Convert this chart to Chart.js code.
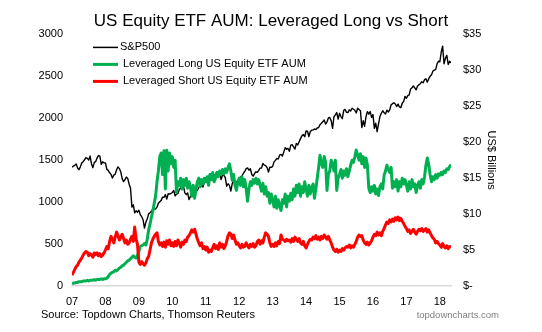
<!DOCTYPE html>
<html>
<head>
<meta charset="utf-8">
<script src="https://cdn.jsdelivr.net/npm/chart.js@4.4.1/dist/chart.umd.min.js"></script>
<style>
  html, body { margin: 0; padding: 0; background: #fff; }
  #wrap { width: 542px; height: 332px; }
</style>
</head>
<body>
<div id="wrap"><canvas id="myChart" width="542" height="332"></canvas></div>
<script>
// semi-monthly readings, first point = start of 2007
var startYear = 2007;
var perYear = 24;

var yearTicks = [2007, 2008, 2009, 2010, 2011, 2012, 2013, 2014, 2015, 2016, 2017, 2018];
var yearLabels = ['07', '08', '09', '10', '11', '12', '13', '14', '15', '16', '17', '18'];

// S&P500 (left axis)
var spx = [
  1418,1430,1438,1456,1407,1387,1421,1468,1482,1505,1531,1522,1503,1549,1455,1411,1474,1484,1527,1555,1549,1451,1481,1468,
  1468,1390,1379,1350,1331,1288,1323,1334,1386,1420,1400,1360,1280,1245,1267,1298,1283,1213,1166,940,969,873,896,880,
  903,850,826,790,690,760,798,860,873,890,919,920,919,940,987,1005,1021,1060,1057,1090,1036,1100,1096,1105,
  1115,1140,1074,1095,1104,1150,1169,1205,1187,1110,1089,1110,1031,1065,1102,1080,1049,1125,1141,1175,1183,1200,1181,1240,
  1258,1290,1286,1340,1327,1270,1326,1320,1364,1340,1345,1270,1321,1320,1292,1190,1219,1200,1131,1220,1253,1220,1247,1220,
  1258,1300,1312,1345,1366,1400,1408,1380,1398,1330,1310,1340,1362,1355,1379,1405,1407,1460,1441,1435,1412,1360,1416,1415,
  1426,1480,1498,1520,1515,1560,1569,1550,1598,1650,1631,1640,1606,1680,1686,1660,1633,1700,1682,1720,1757,1790,1806,1780,
  1848,1845,1783,1840,1859,1860,1872,1865,1884,1890,1924,1940,1960,1980,1931,1955,2003,2010,1972,1880,2018,2040,2068,1990,
  2059,2020,1995,2095,2105,2070,2068,2100,2086,2120,2107,2095,2063,2120,2104,2090,1890,1970,1905,2020,2079,2050,2080,2010,
  2044,1880,1940,1840,1932,2020,2060,2090,2065,2050,2097,2075,2099,2160,2174,2185,2171,2140,2168,2135,2126,2180,2199,2260,
  2239,2270,2279,2350,2364,2385,2363,2340,2384,2400,2412,2435,2423,2460,2470,2430,2472,2500,2519,2560,2575,2580,2648,2680,
  2674,2790,2860,2650,2714,2750,2641,2680,2660
];

// Leveraged long AUM, US$ bn (right axis)
var levLong = [
  0.3,0.4,0.4,0.5,0.5,0.6,0.6,0.6,0.7,0.7,0.7,0.8,0.7,0.8,0.8,0.8,0.9,0.8,0.9,0.9,0.9,1.0,0.9,1.0,
  1.0,1.1,1.3,1.6,1.8,1.9,2.0,2.2,2.1,2.3,2.5,2.6,2.8,2.9,3.1,3.3,3.5,3.6,3.8,4.0,4.2,4.0,3.9,4.3,
  4.8,5.5,5.6,5.7,5.9,5.7,6.5,7.8,8.6,9.6,10.4,11.5,12.5,14.5,16.0,18.0,18.5,15.5,18.8,13.5,18.9,16.0,18.5,17.0,
  18.0,16.5,17.5,13.0,14.5,14.0,15.0,13.5,14.8,14.0,15.0,13.6,14.5,13.8,12.5,14.0,12.2,13.5,14.5,15.0,13.8,14.8,14.2,15.0,
  14.5,15.2,14.0,15.5,14.8,15.8,14.5,15.0,15.8,15.2,16.0,15.5,16.2,15.6,16.3,15.8,16.5,17.0,16.0,14.7,15.5,14.0,13.3,14.5,
  15.0,14.0,15.2,13.8,14.8,13.5,11.8,13.5,14.5,14.0,14.8,14.3,15.0,14.2,14.8,14.0,13.2,14.3,12.8,13.8,12.5,13.0,11.5,12.8,
  12.0,11.0,12.5,10.8,12.0,11.2,10.5,12.0,11.5,12.8,11.0,12.5,11.8,12.9,12.0,13.5,12.5,14.0,13.0,14.2,12.5,13.8,13.0,14.5,
  13.5,12.5,14.0,12.8,13.6,14.2,12.2,13.5,15.0,16.5,18.2,17.0,16.5,18.0,17.2,13.3,15.5,16.0,17.5,17.0,16.0,17.5,13.3,15.0,
  15.5,16.2,15.0,16.0,15.4,16.3,15.2,16.0,16.8,17.5,17.2,18.0,18.9,18.2,17.5,18.4,17.0,18.0,16.5,17.8,16.8,13.6,13.0,13.8,
  13.2,14.0,12.8,13.5,12.6,13.8,14.2,13.5,15.4,16.0,16.8,16.2,15.8,16.5,13.6,14.5,13.8,14.8,13.2,14.5,13.8,15.0,14.2,14.8,
  14.0,13.2,14.5,13.5,14.8,13.8,14.2,13.0,14.0,14.5,13.6,14.8,14.2,15.2,16.8,17.8,16.9,15.5,14.5,15.2,14.8,15.5,15.0,15.6,
  15.4,15.8,15.5,16.0,15.8,16.3,16.2,16.6,16.9
];

// Leveraged short AUM, US$ bn (right axis)
var levShort = [
  1.5,1.9,2.3,2.7,2.9,3.3,3.6,3.9,4.3,4.6,4.8,4.7,4.2,4.5,4.3,4.0,4.6,4.4,4.6,4.2,4.5,4.1,4.3,4.6,
  5.0,5.5,5.2,6.2,6.9,6.5,6.0,6.8,7.5,7.0,6.4,6.8,7.2,6.6,6.0,6.4,5.8,6.0,6.5,6.9,6.2,8.2,6.5,5.8,
  3.3,3.0,3.4,3.1,2.9,3.2,3.8,4.1,5.0,6.0,6.5,6.9,7.2,7.4,6.2,5.7,6.0,5.5,6.1,5.4,6.3,5.8,6.4,5.6,
  6.0,5.5,6.2,5.6,6.4,6.0,5.4,6.1,5.8,6.4,6.2,6.8,7.0,7.4,7.8,7.5,7.9,7.2,6.5,6.0,5.6,6.0,5.2,5.5,
  5.0,5.4,4.7,5.0,4.8,5.3,5.8,5.2,5.6,5.1,6.0,5.4,5.8,5.2,5.6,6.2,7.0,7.4,7.2,6.6,7.1,6.4,5.8,6.0,
  5.6,5.3,5.8,5.4,5.5,6.0,5.6,5.3,5.8,5.5,5.9,5.4,5.6,6.2,6.4,5.8,6.3,6.0,6.8,7.4,7.2,6.9,6.0,5.5,
  5.8,5.5,6.0,5.6,6.2,5.9,7.1,6.5,6.4,6.2,6.5,6.3,6.4,6.1,6.6,6.2,6.8,6.5,6.2,6.6,6.0,5.8,6.2,5.6,
  5.3,5.8,6.2,6.5,6.4,6.8,6.6,7.0,6.5,6.8,6.4,6.9,6.6,7.1,6.8,6.5,6.9,6.4,6.0,5.4,5.0,4.8,5.1,4.7,
  5.0,4.8,5.2,5.0,5.3,5.5,5.4,5.7,5.3,5.6,5.4,5.8,6.2,6.8,7.1,6.9,7.0,6.4,6.0,5.8,6.1,5.7,6.0,6.3,
  6.8,7.2,7.0,7.5,7.1,7.4,7.0,7.6,8.0,8.5,8.9,8.7,9.2,8.9,9.3,9.0,9.5,9.2,9.6,9.1,9.4,9.0,8.7,8.3,
  8.0,7.6,7.8,7.3,7.6,7.9,7.5,7.2,7.6,7.9,7.7,8.0,7.6,7.8,8.0,7.5,7.8,7.4,7.0,6.7,6.5,6.0,6.2,5.9,
  5.7,5.4,5.9,5.5,5.3,5.6,5.2,5.5,5.4
];

var FONT = 'Liberation Sans, Arial, sans-serif';

function toPoints(arr) {
  return arr.map(function(v, i) { return { x: startYear + i / perYear, y: v }; });
}

// legend lines + source notes drawn on the canvas
var notes = {
  id: 'notes',
  afterDraw: function(chart) {
    var c = chart.ctx, a = chart.chartArea;
    c.save();
    c.font = '11px ' + FONT;
    c.textBaseline = 'middle';
    chart.data.datasets.forEach(function(ds, k) {
      var y = a.top + 13 + k * 17;
      var x0 = a.left + 21;
      c.strokeStyle = ds.borderColor;
      c.lineWidth = k === 0 ? 1.5 : 3;
      c.beginPath();
      c.moveTo(x0, y);
      c.lineTo(x0 + 25, y);
      c.stroke();
      c.fillStyle = '#000';
      c.fillText(ds.label, x0 + (k === 0 ? 27 : 30), y);
    });
    c.textBaseline = 'alphabetic';
    c.fillStyle = '#000';
    c.fillText('Source: Topdown Charts, Thomson Reuters', 41, 318);
    c.font = '9.5px ' + FONT;
    c.fillStyle = '#7f7f7f';
    c.textAlign = 'right';
    c.fillText('topdowncharts.com', 499, 318);
    c.restore();
  }
};

var ctx = document.querySelector('#myChart').getContext('2d');
var myChart = new Chart(ctx, {
  type: 'line',
  data: {
    datasets: [{
      label: 'S&P500',
      data: toPoints(spx),
      borderColor: '#000000',
      borderWidth: 1.4,
      yAxisID: 'y',
      order: 3
    }, {
      label: 'Leveraged Long US Equity ETF AUM',
      data: toPoints(levLong),
      borderColor: '#00b050',
      borderWidth: 3,
      yAxisID: 'y2',
      order: 2
    }, {
      label: 'Leveraged Short US Equity ETF AUM',
      data: toPoints(levShort),
      borderColor: '#ff0000',
      borderWidth: 3,
      yAxisID: 'y2',
      order: 1
    }]
  },
  options: {
    responsive: false,
    animation: false,
    devicePixelRatio: 1,
    elements: {
      point: { radius: 0 },
      line: { tension: 0, borderJoinStyle: 'round' }
    },
    layout: { padding: { left: 0, right: 0, top: 0, bottom: 0 } },
    plugins: {
      legend: { display: false },
      tooltip: { enabled: false },
      title: {
        display: true,
        text: 'US Equity ETF AUM: Leveraged Long vs Short',
        color: '#000',
        font: { family: FONT, size: 17, weight: 'normal' },
        padding: { top: 11, bottom: 3 }
      }
    },
    scales: {
      x: {
        type: 'linear',
        min: startYear,
        max: startYear + (spx.length - 1) / perYear,
        grid: { display: false, drawTicks: false },
        border: { display: true, color: '#d9d9d9', width: 1.5 },
        afterBuildTicks: function(scale) {
          scale.ticks = yearTicks.map(function(v) { return { value: v }; });
        },
        afterFit: function(scale) { scale.height = 46; },
        ticks: {
          padding: 9,
          color: '#000',
          font: { family: FONT, size: 11 },
          maxRotation: 0,
          autoSkip: false,
          callback: function(v) { return yearLabels[yearTicks.indexOf(v)]; }
        }
      },
      y: {
        position: 'left',
        min: 0,
        max: 3000,
        grid: { display: false, drawTicks: false },
        border: { display: false },
        afterFit: function(scale) { scale.width = 72; },
        ticks: {
          stepSize: 500, padding: 9, color: '#000', font: { family: FONT, size: 11 },
          callback: function(v) { return String(v); }
        }
      },
      y2: {
        position: 'right',
        min: 0,
        max: 35,
        grid: { display: false, drawTicks: false },
        border: { display: false },
        afterFit: function(scale) { scale.width = 91; },
        ticks: {
          stepSize: 5, padding: 12, color: '#000', font: { family: FONT, size: 11 },
          callback: function(v) { return v === 0 ? '$-' : '$' + v; }
        },
        title: {
          display: true,
          text: 'US$ Billions',
          color: '#000',
          font: { family: FONT, size: 11 },
          padding: { top: 44, bottom: 0 }
        }
      }
    }
  },
  plugins: [notes]
});
</script>
</body>
</html>
